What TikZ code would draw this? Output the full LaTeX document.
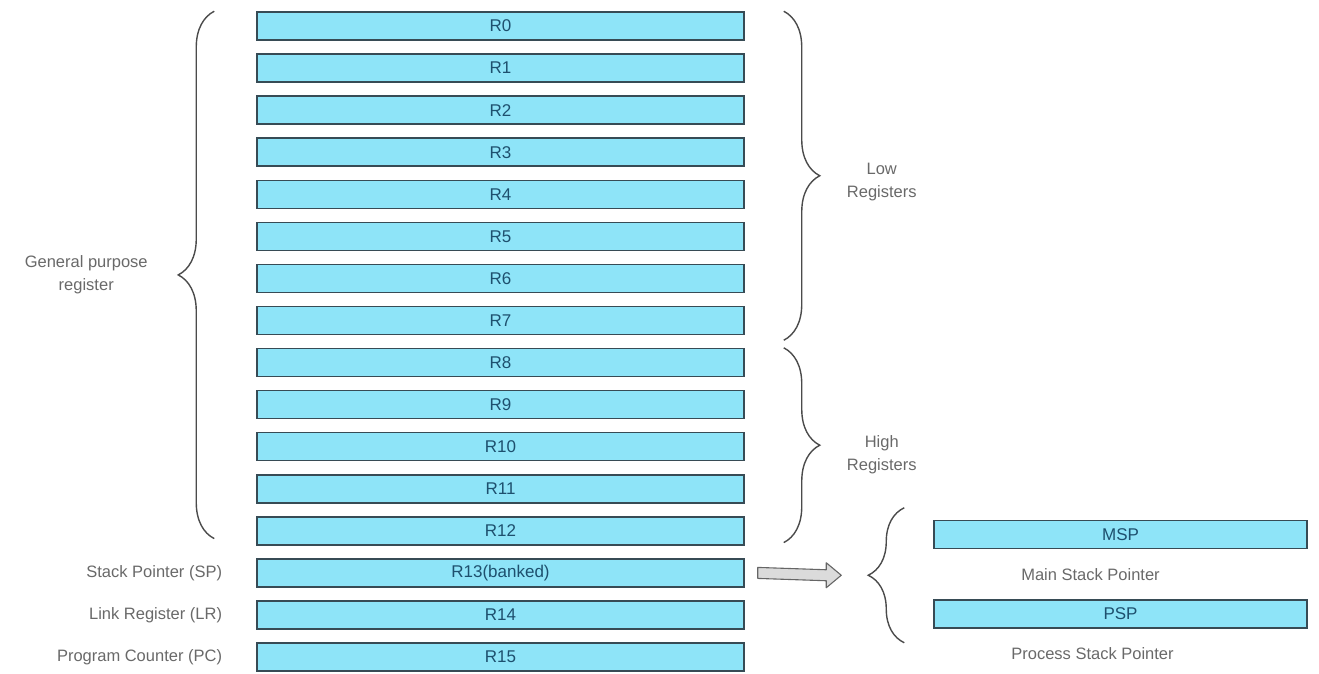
\documentclass[tikz,border=0pt]{standalone}
\usepackage{fontspec}
\setmainfont{Liberation Sans}
\usetikzlibrary{positioning,calc,arrows.meta,decorations.pathreplacing}

\definecolor{regfill}{RGB}{142,228,248}
\definecolor{regline}{RGB}{55,75,85}
\definecolor{regtext}{RGB}{30,80,110}
\definecolor{labgray}{RGB}{105,105,105}
\definecolor{bracegray}{RGB}{75,75,75}

\tikzset{
  reg/.style={draw=regline, fill=regfill, line width=1.5pt, text=regtext,
    minimum width=487pt, minimum height=28pt, inner sep=0pt,
    font=\fontsize{17}{20}\selectfont},
  bankreg/.style={reg, minimum width=373pt},
  lab/.style={text=labgray, inner sep=0pt, align=center,
    font=\fontsize{16.5}{23}\selectfont},
  curly/.style={draw=bracegray, line width=1.4pt, decorate,
    decoration={brace, amplitude=36pt}},
  bigarrow/.style={draw=gray!80!black, fill=gray!28, line width=1.1pt, line join=round}
}

\begin{document}
\begin{tikzpicture}[x=1pt,y=-1pt]
        \useasboundingbox (0,0) rectangle (1319,674);
        % registers
        \foreach \i in {0,1,...,12}
        {
            \node[reg](R\i)at(500.5,{26+42.07*\i}){R\i};
        }
        \node[reg](R13)at(500.5,{26+42.07*13}){R13(banked)};
        \node[reg](R14)at(500.5,{26+42.07*14}){R14};
        \node[reg](R15)at(500.5,{26+42.07*15}){R15};
        % special registers
        \node[lab, anchor=east, left=34pt of R13](sp){Stack Pointer (SP)};
        \node[lab, anchor=east, left=34pt of R14](lr){Link Register (LR)};
        \node[lab, anchor=east, left=34pt of R15](pc){Program Counter (PC)};
        % braces
        \path[curly]($(R12.south west)+(-42,-7)$)to coordinate[pos=0.5](gp)($(R0.north west)+(-42,0)$);
        \node[lab](gplab)at($(gp)+(-128,0)$){General purpose\\register};
        \path[curly]($(R0.north east)+(39,0)$)to coordinate[pos=0.5](lo)($(R7.south east)+(39,5)$);
        \node[lab](lolab)at($(lo)+(98,6)$){Low\\Registers};
        \path[curly]($(R8.north east)+(39,0)$)to coordinate[pos=0.5](hi)($(R12.south east)+(39,-3)$);
        \node[lab](hilab)at($(hi)+(98,10)$){High\\Registers};
        % banked stack pointers
        \node[bankreg](MSP)at(1120.5,534.5){MSP};
        \node[bankreg](PSP)at(1120.5,614){PSP};
        \node[lab](msplab)at($(MSP.south)+(-30,25)$){Main Stack Pointer};
        \node[lab](psplab)at($(PSP.south)+(-28,25)$){Process Stack Pointer};
        \path[curly]($(PSP.south west)+(-29,14)$)to coordinate[pos=0.5](sb)($(MSP.north west)+(-29,-12)$);
        % hollow arrow
        \coordinate(a1)at($(R13.east)+(13,0)$);
        \coordinate(a2)at($(sb)+(-63,0)$);
        \path[bigarrow]($(a1)+(0,-5.5)$)--($(a2)+(-15,-5.5)$)--($(a2)+(-15,-12.5)$)--(a2)
            --($(a2)+(-15,12.5)$)--($(a2)+(-15,5.5)$)--($(a1)+(0,5.5)$)--cycle;
    \end{tikzpicture}
\end{document}
